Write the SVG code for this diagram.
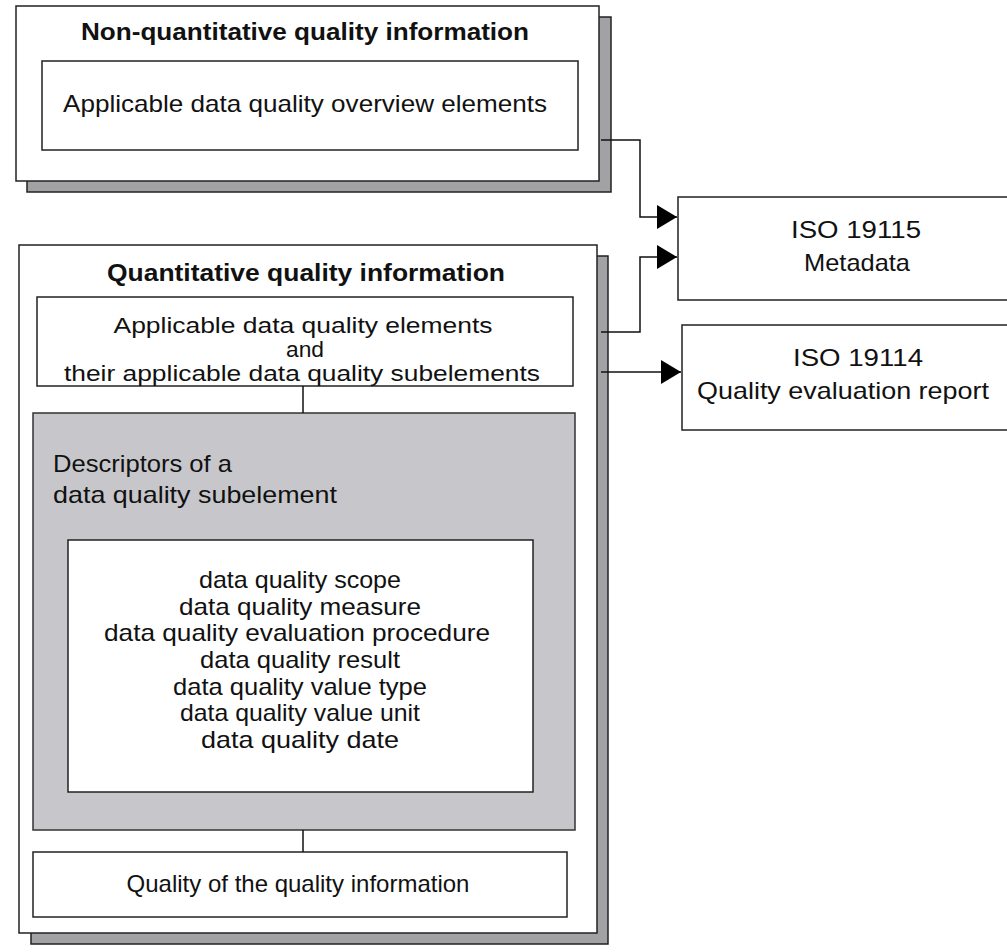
<svg xmlns="http://www.w3.org/2000/svg" width="1007" height="952" viewBox="0 0 1007 952">
<defs>
<style>
.box{fill:#fff;stroke:#222;stroke-width:1.5}
.shadow{fill:#a2a2a4;stroke:#222;stroke-width:1.5}
.grey{fill:#c7c7cb;stroke:#333;stroke-width:1.5}
.t{font-family:"Liberation Sans",Arial,sans-serif;font-size:24px;fill:#111}
.c{text-anchor:middle}
.b{font-weight:bold;font-size:23px}
.s{font-size:21.5px}
.line{fill:none;stroke:#111;stroke-width:1.5}
</style>
<marker id="arr" markerWidth="20" markerHeight="24" refX="20" refY="12" orient="auto" markerUnits="userSpaceOnUse">
<path d="M0,0 L20,12 L0,24 Z" fill="#000"/>
</marker>
</defs>
<g id="nonquant">
<rect class="shadow" x="27" y="17" width="584" height="175"/>
<rect class="box" x="16" y="6" width="583" height="175"/>
<text class="t c b" x="305" y="40" textLength="448" lengthAdjust="spacingAndGlyphs">Non-quantitative quality information</text>
</g>
<g id="overview">
<rect class="box" x="42" y="61" width="536" height="89"/>
<text class="t c" x="305" y="112" textLength="484" lengthAdjust="spacingAndGlyphs">Applicable data quality overview elements</text>
</g>
<g id="quant">
<rect class="shadow" x="31" y="256" width="577" height="688"/>
<rect class="box" x="19" y="245" width="578" height="688"/>
<text class="t c b" x="306" y="281" textLength="398" lengthAdjust="spacingAndGlyphs">Quantitative quality information</text>
</g>
<g id="elements">
<rect class="box" x="37" y="297" width="536" height="89"/>
<text class="t c s" x="303" y="333" textLength="379" lengthAdjust="spacingAndGlyphs">Applicable data quality elements</text>
<text class="t c s" x="305" y="357" textLength="38" lengthAdjust="spacingAndGlyphs">and</text>
<text class="t c s" x="302" y="381" textLength="476" lengthAdjust="spacingAndGlyphs">their applicable data quality subelements</text>
</g>
<g id="descriptors">
<rect class="grey" x="33" y="413" width="542" height="417"/>
<text class="t" x="53" y="472" textLength="179" lengthAdjust="spacingAndGlyphs">Descriptors of a</text>
<text class="t" x="53" y="503" textLength="284" lengthAdjust="spacingAndGlyphs">data quality subelement</text>
</g>
<g id="list">
<rect class="box" x="68" y="540" width="465" height="252"/>
<text class="t c" x="300" y="588" textLength="202" lengthAdjust="spacingAndGlyphs">data quality scope</text>
<text class="t c" x="300" y="615" textLength="242" lengthAdjust="spacingAndGlyphs">data quality measure</text>
<text class="t c" x="297" y="641" textLength="386" lengthAdjust="spacingAndGlyphs">data quality evaluation procedure</text>
<text class="t c" x="300" y="668" textLength="200" lengthAdjust="spacingAndGlyphs">data quality result</text>
<text class="t c" x="300" y="695" textLength="254" lengthAdjust="spacingAndGlyphs">data quality value type</text>
<text class="t c" x="300" y="721" textLength="240" lengthAdjust="spacingAndGlyphs">data quality value unit</text>
<text class="t c" x="300" y="748" textLength="198" lengthAdjust="spacingAndGlyphs">data quality date</text>
</g>
<g id="qqi">
<rect class="box" x="33" y="852" width="534" height="65"/>
<text class="t c" x="298" y="892">Quality of the quality information</text>
</g>
<g id="iso19115">
<rect class="box" x="678" y="197" width="340" height="103"/>
<text class="t c" x="856" y="238" textLength="130" lengthAdjust="spacingAndGlyphs">ISO 19115</text>
<text class="t c" x="857" y="271" textLength="106" lengthAdjust="spacingAndGlyphs">Metadata</text>
</g>
<g id="iso19114">
<rect class="box" x="682" y="325" width="340" height="105"/>
<text class="t c" x="858" y="366" textLength="130" lengthAdjust="spacingAndGlyphs">ISO 19114</text>
<text class="t c" x="843" y="399" textLength="292" lengthAdjust="spacingAndGlyphs">Quality evaluation report</text>
</g>
<g id="connectors">
<polyline class="line" points="601,140 640,140 640,217 677,217" marker-end="url(#arr)"/>
<polyline class="line" points="601,332 640,332 640,257 677,257" marker-end="url(#arr)"/>
<polyline class="line" points="601,372 681,372" marker-end="url(#arr)"/>
<line class="line" x1="303" y1="386" x2="303" y2="413"/>
<line class="line" x1="303" y1="830" x2="303" y2="852"/>
</g>
</svg>
